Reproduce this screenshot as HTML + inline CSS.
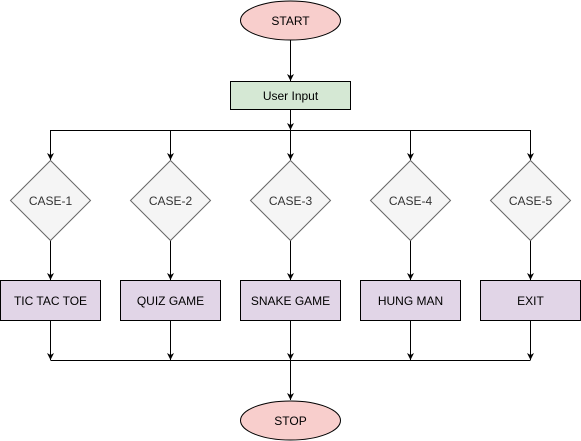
<!DOCTYPE html>
<html><head><style>html,body{margin:0;padding:0;background:#fff}svg{display:block}</style></head><body>
<svg width="581" height="441" viewBox="0 0 581 441" xmlns="http://www.w3.org/2000/svg" font-family="Liberation Sans, Arial, sans-serif" font-size="12" text-anchor="middle">
<defs><marker id="a" markerWidth="8" markerHeight="8" refX="7" refY="4" orient="auto" markerUnits="userSpaceOnUse"><path d="M0,0.5 L7,4 L0,7.5 L2,4 Z" fill="#000"/></marker></defs>
<g stroke="#000" stroke-width="1" fill="none">
<line x1="290.5" y1="40" x2="290.5" y2="81" marker-end="url(#a)"/>
<line x1="290.5" y1="110" x2="290.5" y2="130" marker-end="url(#a)"/>
<line x1="50.5" y1="130.5" x2="530.5" y2="130.5"/>
<line x1="50.5" y1="130" x2="50.5" y2="160" marker-end="url(#a)"/>
<line x1="170.5" y1="130" x2="170.5" y2="160" marker-end="url(#a)"/>
<line x1="290.5" y1="130" x2="290.5" y2="160" marker-end="url(#a)"/>
<line x1="410.5" y1="130" x2="410.5" y2="160" marker-end="url(#a)"/>
<line x1="530.5" y1="130" x2="530.5" y2="160" marker-end="url(#a)"/>
<line x1="50.5" y1="240" x2="50.5" y2="280" marker-end="url(#a)"/>
<line x1="170.5" y1="240" x2="170.5" y2="280" marker-end="url(#a)"/>
<line x1="290.5" y1="240" x2="290.5" y2="280" marker-end="url(#a)"/>
<line x1="410.5" y1="240" x2="410.5" y2="280" marker-end="url(#a)"/>
<line x1="530.5" y1="240" x2="530.5" y2="280" marker-end="url(#a)"/>
<line x1="50.5" y1="320" x2="50.5" y2="360" marker-end="url(#a)"/>
<line x1="170.5" y1="320" x2="170.5" y2="360" marker-end="url(#a)"/>
<line x1="290.5" y1="320" x2="290.5" y2="360" marker-end="url(#a)"/>
<line x1="410.5" y1="320" x2="410.5" y2="360" marker-end="url(#a)"/>
<line x1="530.5" y1="320" x2="530.5" y2="360" marker-end="url(#a)"/>
<line x1="50.5" y1="360.5" x2="530.5" y2="360.5"/>
<line x1="290.5" y1="360" x2="290.5" y2="400" marker-end="url(#a)"/>
</g>
<ellipse cx="290.5" cy="20.5" rx="50" ry="19.5" fill="#f8cecc" stroke="#000"/>
<text x="290.5" y="25">START</text>
<rect x="230.5" y="81.5" width="120" height="28" fill="#d5e8d4" stroke="#000"/>
<text x="290.5" y="100">User Input</text>
<g fill="#f5f5f5" stroke="#666">
<path d="M50.5,160.5 L90.5,200.5 L50.5,240.5 L10.5,200.5 Z"/>
<path d="M170.5,160.5 L210.5,200.5 L170.5,240.5 L130.5,200.5 Z"/>
<path d="M290.5,160.5 L330.5,200.5 L290.5,240.5 L250.5,200.5 Z"/>
<path d="M410.5,160.5 L450.5,200.5 L410.5,240.5 L370.5,200.5 Z"/>
<path d="M530.5,160.5 L570.5,200.5 L530.5,240.5 L490.5,200.5 Z"/>
</g>
<g fill="#333">
<text x="50.5" y="205">CASE-1</text><text x="170.5" y="205">CASE-2</text><text x="290.5" y="205">CASE-3</text><text x="410.5" y="205">CASE-4</text><text x="530.5" y="205">CASE-5</text>
</g>
<g fill="#e1d5e7" stroke="#000">
<rect x="0.5" y="280.5" width="100" height="40"/>
<rect x="120.5" y="280.5" width="100" height="40"/>
<rect x="240.5" y="280.5" width="100" height="40"/>
<rect x="360.5" y="280.5" width="100" height="40"/>
<rect x="480.5" y="280.5" width="100" height="40"/>
</g>
<text x="50.5" y="305">TIC TAC TOE</text><text x="170.5" y="305">QUIZ GAME</text><text x="290.5" y="305">SNAKE GAME</text><text x="410.5" y="305">HUNG MAN</text><text x="530.5" y="305">EXIT</text>
<ellipse cx="290.5" cy="420.5" rx="50" ry="19.5" fill="#f8cecc" stroke="#000"/>
<text x="290.5" y="425">STOP</text>
</svg>
</body></html>
